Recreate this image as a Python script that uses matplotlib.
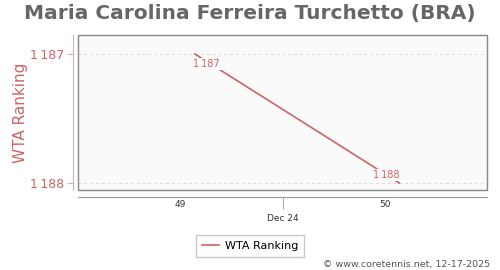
import matplotlib; matplotlib.use("Agg")
import matplotlib.pyplot as plt
from matplotlib.patches import Rectangle

# data: days from the start of week 49, ranking values
days = [0.5, 7.5]
ranks = [1187, 1188]
rank_labels = ["1\u2009187", "1\u2009188"]
week_ticks = [0, 7]
week_labels = ["49", "50"]
month_ticks = [3.5]
month_labels = ["Dec 24"]

RED = "#cd6464"
GRAY = "#666666"

fig = plt.figure(figsize=(5, 2.7), dpi=100)
ax = fig.add_axes([78 / 500, 1 - 190 / 270, (487 - 78) / 500, (190 - 35) / 270])
ax.set_facecolor("#fafafa")

ax.plot(days, ranks, color=RED, lw=1.2, zorder=3)
offsets = [(8.6, -7.2), (-9.4, 5.8)]
for d, r, t, off in zip(days, ranks, rank_labels, offsets):
    ax.annotate(t, (d, r), xytext=off, textcoords="offset points",
                ha="center", va="center", fontsize=7, color=RED, zorder=4,
                bbox=dict(boxstyle="square,pad=0.15", fc="#fafafa", ec="none"))

ax.set_xlim(-3.5, 10.5)
ax.set_ylim(1188.054, 1186.853)
ax.set_yticks(ranks)
ax.set_yticklabels(rank_labels)
ax.grid(axis="y", ls=(0, (3, 3)), color="#dddddd", lw=0.7)

for s in ["top", "right"]:
    ax.spines[s].set_visible(False)
ax.spines["left"].set_position(("outward", 3.6))
ax.spines["left"].set_color("#e0b0b0")
ax.spines["bottom"].set_position(("outward", 5))
ax.spines["bottom"].set_color("#999999")
ax.add_patch(Rectangle((0, 0), 1, 1, transform=ax.transAxes, fill=False, ec="#888888", lw=1.0, zorder=5, clip_on=False))

ax.tick_params(axis="y", colors="#e0b0b0", labelcolor=RED, labelsize=9, length=4, pad=2)
ax.set_xticks(week_ticks)
ax.set_xticklabels(week_labels)
ax.set_xticks(month_ticks, minor=True)
ax.set_xticklabels(month_labels, minor=True)
ax.tick_params(axis="x", which="major", length=0, pad=2.5, labelsize=6.5, labelcolor="#333333")
ax.tick_params(axis="x", which="minor", length=8.6, pad=4, labelsize=6.5, labelcolor="#333333", color="#999999")

ax.set_ylabel("WTA Ranking", color=RED, fontsize=11, labelpad=0)
ax.yaxis.set_label_coords((28 - 78) / 409, 0.5)
fig.suptitle("Maria Carolina Ferreira Turchetto (BRA)", x=0.5, y=0.985, fontsize=14.5, fontweight="bold", color=GRAY)

leg = fig.legend([ax.lines[0]], ["WTA Ranking"], loc="center", bbox_to_anchor=(0.5, 1 - 246 / 270),
                 fontsize=8, frameon=True, fancybox=False, edgecolor="#bbbbbb", handlelength=1.6,
                 borderpad=0.55, handletextpad=0.5)
fig.text(0.98, 1 - 264 / 270, "\u00a9 www.coretennis.net, 12-17-2025", ha="right", va="center", fontsize=6.8, color="#555555")

fig.savefig("out.png", dpi=100)
